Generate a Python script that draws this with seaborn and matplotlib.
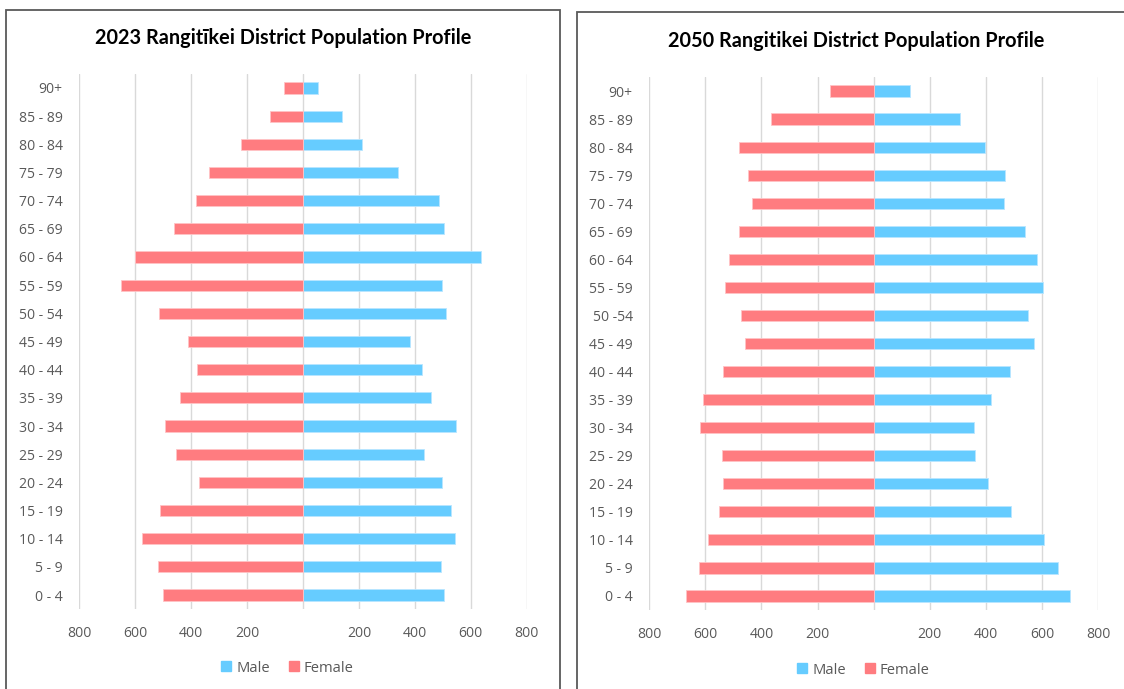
import matplotlib
matplotlib.use("Agg")
import matplotlib.pyplot as plt
from matplotlib.patches import Rectangle
from matplotlib.lines import Line2D
import seaborn as sns
import pandas as pd

# ---------------- data ----------------
ages_2023 = ["90+", "85 - 89", "80 - 84", "75 - 79", "70 - 74", "65 - 69", "60 - 64",
             "55 - 59", "50 - 54", "45 - 49", "40 - 44", "35 - 39", "30 - 34",
             "25 - 29", "20 - 24", "15 - 19", "10 - 14", "5 - 9", "0 - 4"]
ages_2050 = ["90+", "85 - 89", "80 - 84", "75 - 79", "70 - 74", "65 - 69", "60 - 64",
             "55 - 59", "50 -54", "45 - 49", "40 - 44", "35 - 39", "30 - 34",
             "25 - 29", "20 - 24", "15 - 19", "10 - 14", "5 - 9", "0 - 4"]

male_2023 = [52, 141, 210, 338, 487, 503, 637, 498, 510, 384, 426, 459, 547,
             434, 498, 528, 544, 494, 505]
female_2023 = [69, 119, 222, 336, 382, 461, 600, 652, 515, 413, 378, 439, 492,
               454, 371, 511, 576, 520, 500]

male_2050 = [131, 309, 397, 470, 466, 541, 583, 605, 549, 571, 487, 419, 358,
             362, 408, 491, 606, 659, 700]
female_2050 = [154, 367, 481, 447, 435, 481, 516, 531, 473, 459, 538, 610, 618,
               542, 538, 550, 592, 622, 670]

titles = ["2023 Rangitīkei District Population Profile",
          "2050 Rangitikei District Population Profile"]
x_ticks = [-800, -600, -400, -200, 0, 200, 400, 600, 800]
x_tick_labels = ["800", "600", "400", "200", "", "200", "400", "600", "800"]
legend_labels = ["Male", "Female"]

MALE_C = "#66CCFF"
FEMALE_C = "#FF7C80"
TEXT_C = "#595959"
GRID_C = "#D9D9D9"

sns.set_theme(style="white")
plt.rcParams["font.family"] = ["Open Sans", "DejaVu Sans"]

W, H = 1124, 689
fig = plt.figure(figsize=(W / 100, H / 100), dpi=100)
fig.patch.set_facecolor("white")

def fx(px):
    return px / W

def fy(py):
    return 1 - py / H

# panel frames (pixel coords)
frames = [(6.5, 10, 560, 700), (577, 12, 1140, 700)]
for (x0, y0, x1, y1) in frames:
    fig.patches.append(Rectangle((fx(x0), fy(y1)), fx(x1) - fx(x0), fy(y0) - fy(y1),
                                 transform=fig.transFigure, fill=False,
                                 edgecolor="#595959", linewidth=1.3, zorder=0))

# axes positions in pixels: left, right, top, bottom
axes_px = [(79.3, 526.7, 73.9, 609.1), (649.3, 1098.0, 77.0, 610.0)]
datasets = [(ages_2023, male_2023, female_2023), (ages_2050, male_2050, female_2050)]
title_pos = [(283, 38), (856, 41)]
legend_pos = [(287, 668), (863, 670)]

for i in range(2):
    l, r, t, b = axes_px[i]
    ax = fig.add_axes([fx(l), fy(b), fx(r) - fx(l), fy(t) - fy(b)])
    ages, male, female = datasets[i]
    df = pd.DataFrame({"age": ages, "male": male,
                       "female": [-v for v in female]})
    sns.barplot(data=df, y="age", x="male", order=ages, color=MALE_C,
                saturation=1, width=0.4, ax=ax, edgecolor="#B8E6FF", linewidth=0.6)
    sns.barplot(data=df, y="age", x="female", order=ages, color=FEMALE_C,
                saturation=1, width=0.4, ax=ax, edgecolor="#FFC4C6", linewidth=0.6)
    ax.set_xlim(-800, 800)
    ax.set_xticks(x_ticks)
    ax.set_xticklabels(x_tick_labels)
    ax.set_xlabel("")
    ax.set_ylabel("")
    for s in ax.spines.values():
        s.set_visible(False)
    ax.grid(axis="x", color=GRID_C, linewidth=1.0)
    ax.grid(axis="y", visible=False)
    ax.set_axisbelow(True)
    ax.tick_params(axis="both", length=0, colors=TEXT_C, labelsize=10.1)
    ax.tick_params(axis="x", pad=12)
    ax.tick_params(axis="y", pad=12)
    for lab in ax.get_xticklabels() + ax.get_yticklabels():
        lab.set_color(TEXT_C)
    ax.set_facecolor("none")

    tx, ty = title_pos[i]
    fig.text(fx(tx), fy(ty), titles[i], ha="center", va="center",
             fontsize=14.3, fontweight="bold", color="#000000",
             family=["Lato", "DejaVu Sans"])

    handles = [Line2D([0], [0], marker="s", linestyle="none", markersize=7.5,
                      markerfacecolor=MALE_C, markeredgecolor=MALE_C),
               Line2D([0], [0], marker="s", linestyle="none", markersize=7.5,
                      markerfacecolor=FEMALE_C, markeredgecolor=FEMALE_C)]
    lx, ly = legend_pos[i]
    leg = fig.legend(handles, legend_labels, loc="center",
                     bbox_to_anchor=(fx(lx), fy(ly)), ncol=2, frameon=False,
                     handlelength=0.8, handletextpad=0.3, columnspacing=1.2,
                     fontsize=10.6)
    for txt in leg.get_texts():
        txt.set_color(TEXT_C)

fig.savefig("out.png", dpi=100, facecolor="white")
